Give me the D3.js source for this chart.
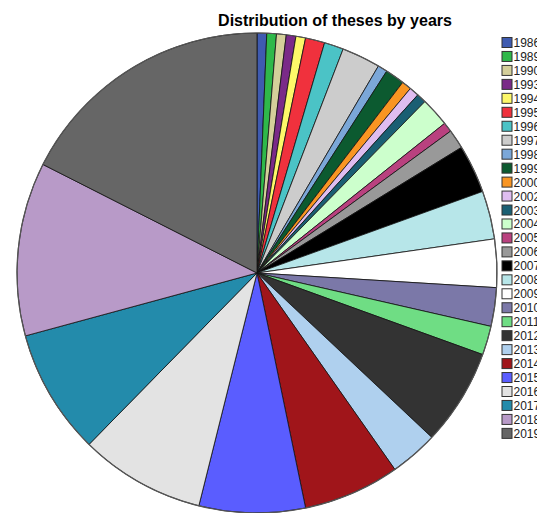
<!DOCTYPE html>
<html>
<head>
<meta charset="utf-8">
<script src="https://cdn.jsdelivr.net/npm/d3@7"></script>
<style>
  body { margin: 0; background: #fff; }
  svg { display: block; }
</style>
</head>
<body>
<svg width="537" height="513"></svg>
<script>
// Data
const years = ["1986", "1989", "1990", "1993", "1994", "1995", "1996", "1997", "1998", "1999",
	"2000", "2002", "2003", "2004", "2005", "2006", "2007", "2008", "2009", "2010",
	"2011", "2012", "2013", "2014", "2015", "2016", "2017", "2018", "2019"];
const counts = [1, 1, 1, 1, 1, 2, 2, 4, 1, 2,
	1, 1, 1, 3, 1, 2, 5, 5, 5, 4,
	3, 10, 5, 10, 11, 13, 13, 18, 27];
const colors = ["#3f5bb0", "#2fb84a", "#d4cf9a", "#7a2a88", "#fdf869", "#f0313d", "#4bc3c6", "#cccccc", "#7ba7d8", "#0c5a30",
	"#f99522", "#dfbdf0", "#1a5f73", "#ccffcc", "#b9417f", "#999999", "#000000", "#b7e6e9", "#ffffff", "#7b78a8",
	"#6fdd84", "#333333", "#afd0ee", "#a0151a", "#5a5dff", "#e3e3e3", "#238bab", "#b89ac8", "#666666"];

const data = years.map((y, i) => ({ year: y, count: counts[i] }));

const svg = d3.select("svg");

const cx = 257, cy = 273, radius = 240;

const color = d3.scaleOrdinal().domain(years).range(colors);

const pie = d3.pie().sort(null).value((d) => d.count);
const arc = d3.arc().innerRadius(0).outerRadius(radius);

const g = svg.append("g").attr("transform", `translate(${cx},${cy})`);

g.selectAll("path")
	.data(pie(data))
	.enter()
	.append("path")
	.attr("d", arc)
	.attr("fill", (d) => color(d.data.year))
	.attr("stroke", "#111")
	.attr("stroke-width", 0.8);

// outer rim
g.append("circle")
	.attr("r", radius)
	.attr("fill", "none")
	.attr("stroke", "#555")
	.attr("stroke-width", 1.2);

// title
svg.append("text")
	.attr("x", 335)
	.attr("y", 26)
	.attr("text-anchor", "middle")
	.attr("font-family", "Liberation Sans, Arial, sans-serif")
	.attr("font-weight", "bold")
	.attr("font-size", 16)
	.attr("fill", "#000")
	.text("Distribution of theses by years");

// legend
const legend = svg.append("g")
	.selectAll("g")
	.data(years)
	.enter()
	.append("g")
	.attr("transform", (d, i) => `translate(502,${37.5 + i * 13.96})`);

legend.append("rect")
	.attr("width", 10)
	.attr("height", 10)
	.attr("fill", (d) => color(d))
	.attr("stroke", "#333")
	.attr("stroke-width", 1);

legend.append("text")
	.attr("x", 11.5)
	.attr("y", 9.5)
	.attr("font-family", "Liberation Sans, Arial, sans-serif")
	.attr("font-size", 12)
	.attr("fill", "#222")
	.text((d) => d);
</script>
</body>
</html>
